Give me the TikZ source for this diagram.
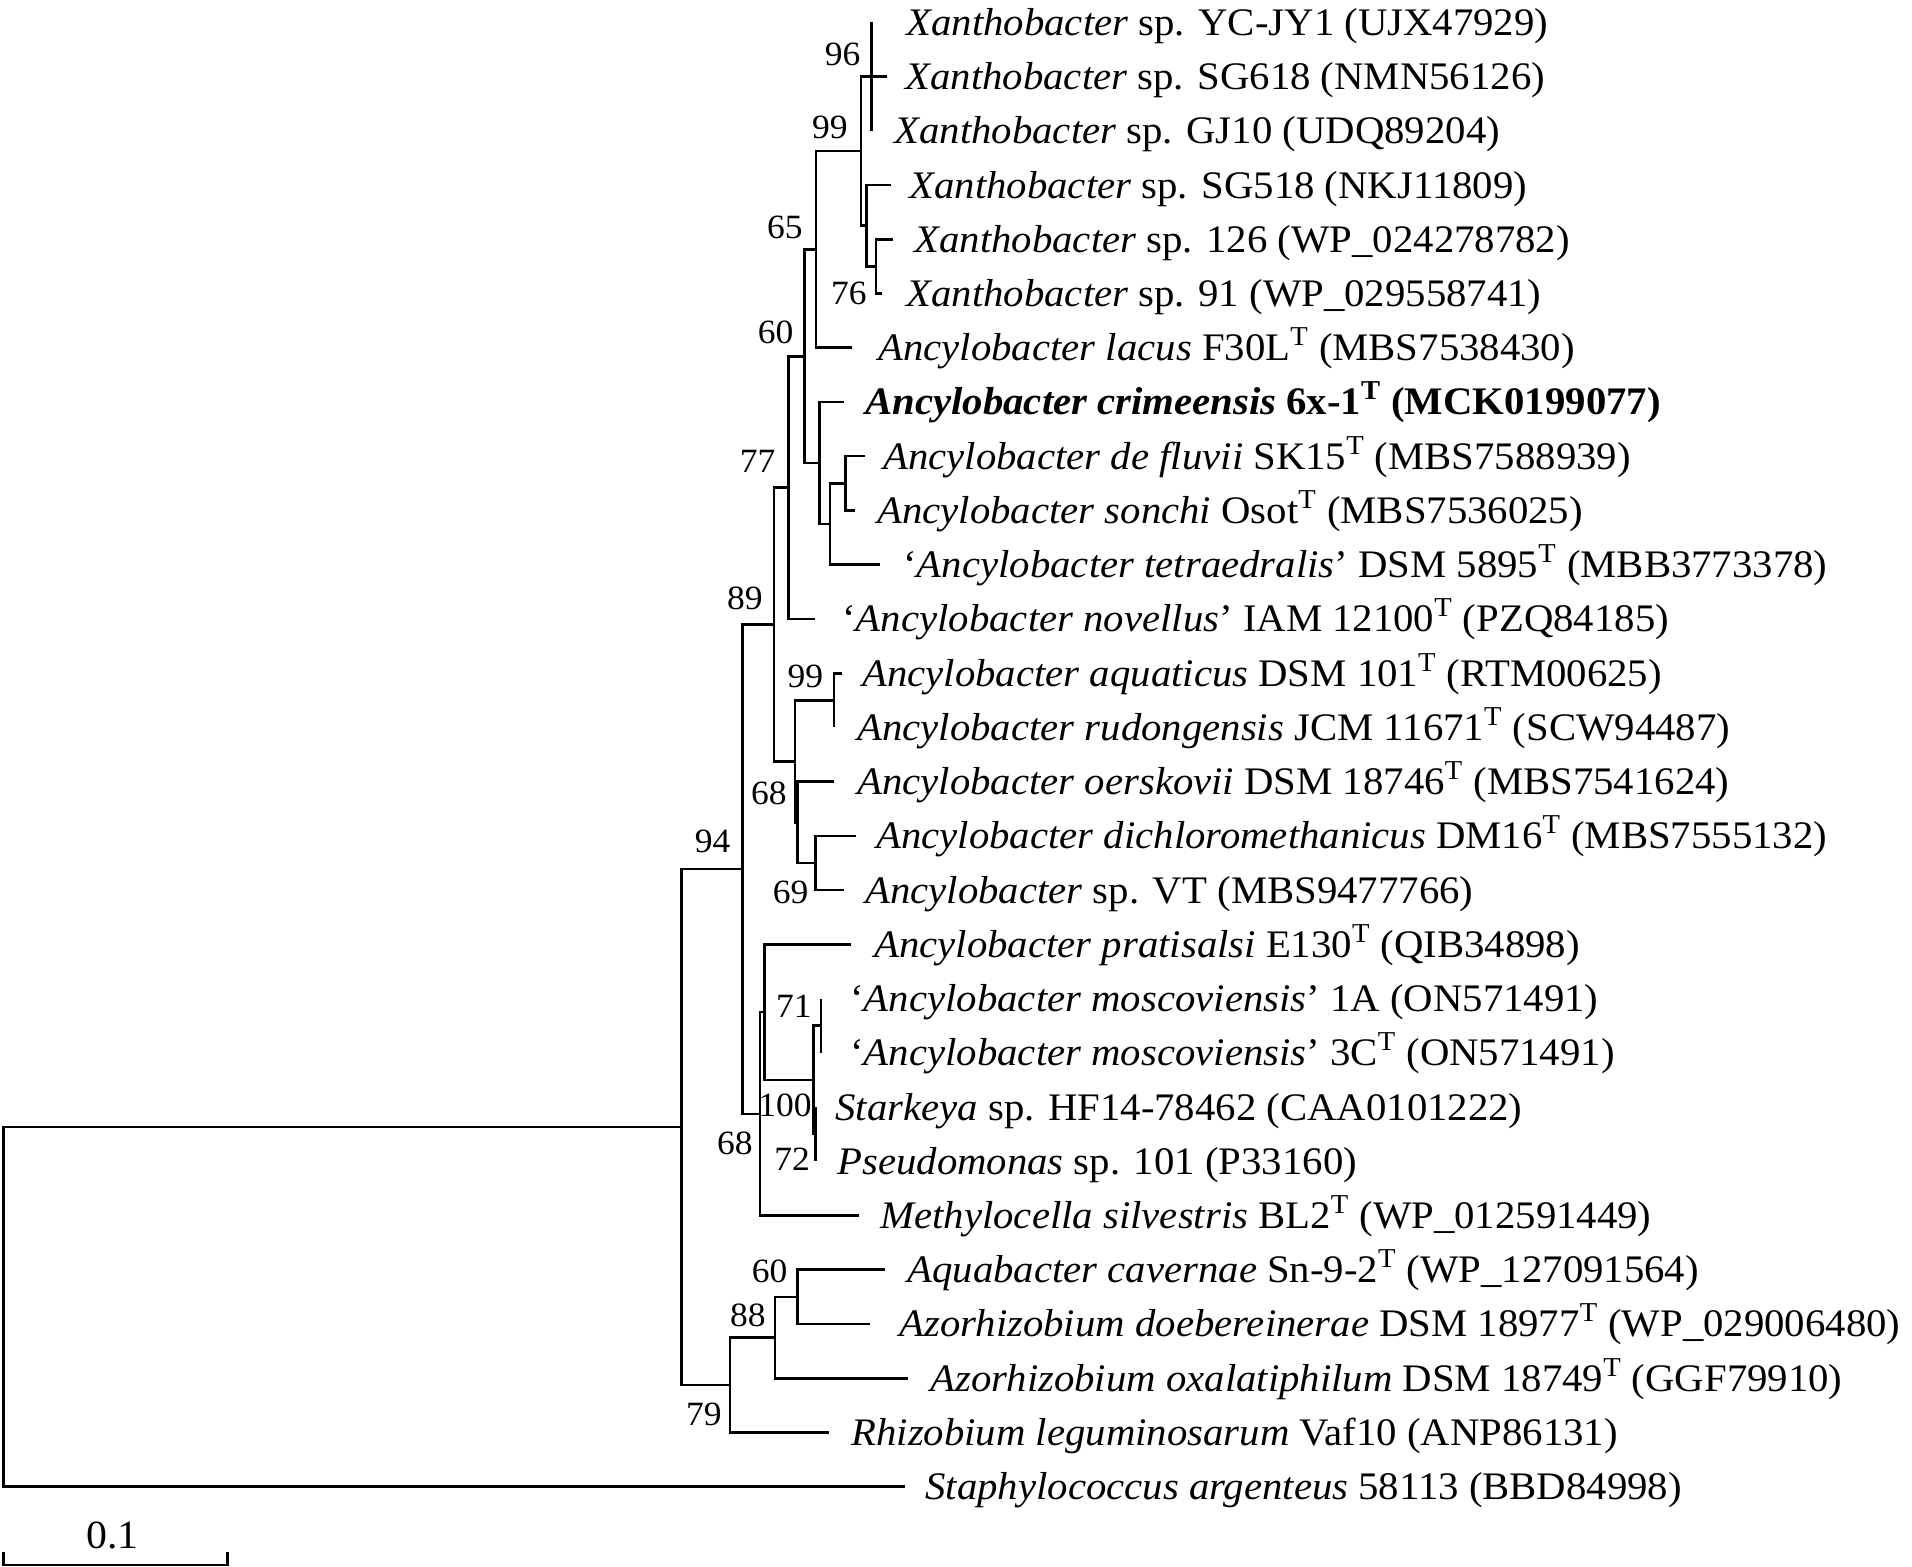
\documentclass[tikz,border=0pt]{standalone}
\usepackage{fontspec}
\setmainfont{Liberation Serif}[FakeStretch=1.045]
\usetikzlibrary{positioning}

\tikzset{
  branch/.style={line width=1.3pt},
  taxon/.style={anchor=base west, inner sep=0pt, font=\fontsize{19.5}{23}\selectfont},
  boot/.style={inner sep=0pt, font=\fontsize{17}{20}\selectfont},
}

\begin{document}
\begin{tikzpicture}[x=0.5pt, y=-0.5pt]
\useasboundingbox (0,0) rectangle (1912,1567);

% internal nodes
\coordinate (root) at (3.5,1306.8);
\coordinate (nH) at (681.7,1127);
\coordinate (n94) at (742.7,869.1);
\coordinate (n89) at (774,624.4);
\coordinate (n77) at (788.3,487.6);
\coordinate (n60) at (804.3,356.3);
\coordinate (n65) at (816,249.5);
\coordinate (n99) at (861,151.2);
\coordinate (n96) at (871.7,76.6);
\coordinate (nA) at (866.7,225.8);
\coordinate (n76) at (876,266.4);
\coordinate (nD) at (819.3,463);
\coordinate (nC) at (830,524);
\coordinate (nB) at (845.7,483.3);
\coordinate (n68) at (795,761.3);
\coordinate (n99b) at (834,700.3);
\coordinate (nE) at (797.7,822.3);
\coordinate (n69) at (815.7,863);
\coordinate (nG) at (760,1113.8);
\coordinate (nF) at (764.3,1012.1);
\coordinate (n100) at (813.3,1079.9);
\coordinate (n71) at (821,1025.7);
\coordinate (n72) at (815.7,1134.1);
\coordinate (n79) at (730,1385);
\coordinate (n88) at (775,1337.5);
\coordinate (n60b) at (797.3,1296.8);

% tips
\coordinate (t1) at (871.7,22.4);
\coordinate (t2) at (886.7,76.6);
\coordinate (t3) at (871.7,130.9);
\coordinate (t4) at (891,185.1);
\coordinate (t5) at (893.3,239.3);
\coordinate (t6) at (881.7,293.6);
\coordinate (t7) at (851.7,347.8);
\coordinate (t8) at (844,402);
\coordinate (t9) at (865,456.2);
\coordinate (t10) at (854.5,510.5);
\coordinate (t11) at (880,564.7);
\coordinate (t12) at (815,618.9);
\coordinate (t13) at (841.5,673.2);
\coordinate (t14) at (834,727.4);
\coordinate (t15) at (833.5,781.6);
\coordinate (t16) at (855.5,835.9);
\coordinate (t17) at (844,890.1);
\coordinate (t18) at (851.3,944.3);
\coordinate (t19) at (821,998.5);
\coordinate (t20) at (821,1052.8);
\coordinate (t21) at (815.7,1107);
\coordinate (t22) at (815.7,1161.2);
\coordinate (t23) at (858.5,1215.5);
\coordinate (t24) at (885,1269.7);
\coordinate (t25) at (870,1323.9);
\coordinate (t26) at (908.3,1378.2);
\coordinate (t27) at (829.3,1432.4);
\coordinate (t28) at (905,1486.6);

% branches
\foreach \p/\c in {root/nH, root/t28, nH/n94, nH/n79, n94/n89, n94/nG,
    n89/n77, n89/n68, n77/n60, n77/t12, n60/n65, n60/nD, n65/n99, n65/t7,
    n99/n96, n99/nA, n96/t1, n96/t2, n96/t3, nA/t4, nA/n76, n76/t5, n76/t6,
    nD/t8, nD/nC, nC/nB, nC/t11, nB/t9, nB/t10,
    n68/n99b, n68/nE, n99b/t13, n99b/t14, nE/t15, nE/n69, n69/t16, n69/t17,
    nG/nF, nG/t23, nF/t18, nF/n100, n100/n71, n100/n72,
    n71/t19, n71/t20, n72/t21, n72/t22,
    n79/n88, n79/t27, n88/n60b, n88/t26, n60b/t24, n60b/t25}
  \draw[branch] (\p) |- (\c);

% taxa
\node[taxon] (L1) at (906,35.4) {\textit{Xanthobacter} sp. YC-JY1 (UJX47929)};
\node[taxon] (L2) at (905,89.6) {\textit{Xanthobacter} sp. SG618 (NMN56126)};
\node[taxon] (L3) at (894,143.9) {\textit{Xanthobacter} sp. GJ10 (UDQ89204)};
\node[taxon] (L4) at (909,198.1) {\textit{Xanthobacter} sp. SG518 (NKJ11809)};
\node[taxon] (L5) at (914,252.3) {\textit{Xanthobacter} sp. 126 (WP\_024278782)};
\node[taxon] (L6) at (906,306.6) {\textit{Xanthobacter} sp. 91 (WP\_029558741)};
\node[taxon] (L7) at (878,360.8) {\textit{Ancylobacter lacus} F30L\textsuperscript{T} (MBS7538430)};
\node[taxon] (L8) at (865,415) {\textbf{\textit{Ancylobacter crimeensis} 6x-1\textsuperscript{T} (MCK0199077)}};
\node[taxon] (L9) at (883,469.2) {\textit{Ancylobacter de fluvii} SK15\textsuperscript{T} (MBS7588939)};
\node[taxon] (L10) at (877,523.5) {\textit{Ancylobacter sonchi} Osot\textsuperscript{T} (MBS7536025)};
\node[taxon] (L11) at (903,577.7) {`\textit{Ancylobacter tetraedralis}' DSM 5895\textsuperscript{T} (MBB3773378)};
\node[taxon] (L12) at (842,631.9) {`\textit{Ancylobacter novellus}' IAM 12100\textsuperscript{T} (PZQ84185)};
\node[taxon] (L13) at (862,686.2) {\textit{Ancylobacter aquaticus} DSM 101\textsuperscript{T} (RTM00625)};
\node[taxon] (L14) at (857,740.4) {\textit{Ancylobacter rudongensis} JCM 11671\textsuperscript{T} (SCW94487)};
\node[taxon] (L15) at (857,794.6) {\textit{Ancylobacter oerskovii} DSM 18746\textsuperscript{T} (MBS7541624)};
\node[taxon] (L16) at (876,848.9) {\textit{Ancylobacter dichloromethanicus} DM16\textsuperscript{T} (MBS7555132)};
\node[taxon] (L17) at (865,903.1) {\textit{Ancylobacter} sp. VT (MBS9477766)};
\node[taxon] (L18) at (874,957.3) {\textit{Ancylobacter pratisalsi} E130\textsuperscript{T} (QIB34898)};
\node[taxon] (L19) at (850,1011.5) {`\textit{Ancylobacter moscoviensis}' 1A (ON571491)};
\node[taxon] (L20) at (850,1065.8) {`\textit{Ancylobacter moscoviensis}' 3C\textsuperscript{T} (ON571491)};
\node[taxon] (L21) at (835,1120) {\textit{Starkeya} sp. HF14-78462 (CAA0101222)};
\node[taxon] (L22) at (837,1174.2) {\textit{Pseudomonas} sp. 101 (P33160)};
\node[taxon] (L23) at (880,1228.5) {\textit{Methylocella silvestris} BL2\textsuperscript{T} (WP\_012591449)};
\node[taxon] (L24) at (907,1282.7) {\textit{Aquabacter cavernae} Sn-9-2\textsuperscript{T} (WP\_127091564)};
\node[taxon] (L25) at (899,1336.9) {\textit{Azorhizobium doebereinerae} DSM 18977\textsuperscript{T} (WP\_029006480)};
\node[taxon] (L26) at (930,1391.2) {\textit{Azorhizobium oxalatiphilum} DSM 18749\textsuperscript{T} (GGF79910)};
\node[taxon] (L27) at (851,1445.4) {\textit{Rhizobium leguminosarum} Vaf10 (ANP86131)};
\node[taxon] (L28) at (925,1499.6) {\textit{Staphylococcus argenteus} 58113 (BBD84998)};

% bootstrap values
\node[boot, above left=5pt and 5.4pt of n96] (b96) {96};
\node[boot, above left=6.1pt and 6.5pt of n99] (b99) {99};
\node[boot, above left=5pt and 6.5pt of n65] (b65) {65};
\node[boot, below left=7.4pt and 4.5pt of n76] (b76) {76};
\node[boot, above left=5.8pt and 5.3pt of n60] (b60) {60};
\node[boot, above left=7.2pt and 6.2pt of n77] (b77) {77};
\node[boot, above left=7.3pt and 5.5pt of n89] (b89) {89};
\node[boot, above left=6pt and 5.2pt of n99b] (b99b) {99};
\node[boot, below left=10pt and 4pt of n68] (b68) {68};
\node[boot, below left=8.6pt and 3.5pt of n69] (b69) {69};
\node[boot, above left=8pt and 5.9pt of n94] (b94) {94};
\node[boot, above left=4.1pt and 4.5pt of n71] (b71) {71};
\node[boot, below left=6.8pt and 0.6pt of n100] (b100) {100};
\node[boot, below left=9pt and 3.5pt of nG] (b68b) {68};
\node[boot, below left=6.9pt and 2.7pt of n72] (b72) {72};
\node[boot, above left=6.8pt and 4.8pt of n60b] (b60b) {60};
\node[boot, above left=5pt and 4.5pt of n88] (b88) {88};
\node[boot, below left=8.9pt and 4pt of n79] (b79) {79};

% scale bar
\coordinate (s1) at (3.3,1551.7);
\coordinate (s2) at (227.3,1551.7);
\draw[branch] (s1) -- ++(0,13.3) -| (s2);
\node[font=\fontsize{20}{24}\selectfont, inner sep=0pt] (sl) at (112.7,1535) {0.1};
\end{tikzpicture}
\end{document}
